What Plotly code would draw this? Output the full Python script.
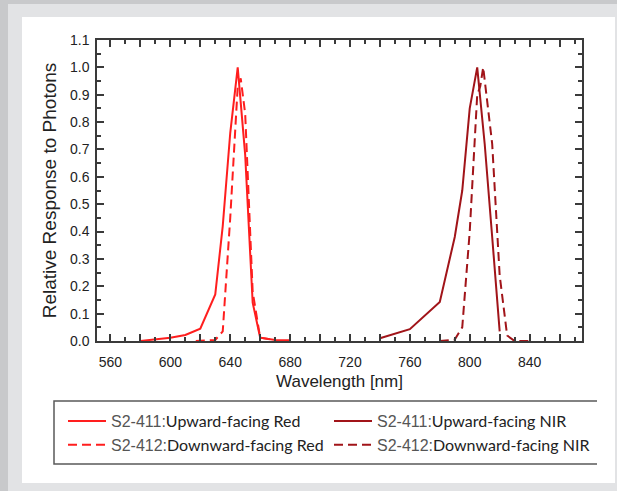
import plotly.graph_objects as go

# ---- data ----
red_up_wl = [580, 590, 600, 610, 620, 630, 635, 640, 645, 650, 655, 660, 670, 680]
red_up_val = [0.0, 0.005, 0.012, 0.022, 0.045, 0.17, 0.42, 0.76, 1.0, 0.68, 0.14, 0.012, 0.004, 0.003]

red_dn_wl = [617, 630, 635, 640, 645, 647, 650, 655, 660, 670]
red_dn_val = [0.0, 0.004, 0.035, 0.45, 0.93, 0.96, 0.83, 0.18, 0.012, 0.003]

nir_up_wl = [740, 760, 780, 790, 795, 800, 805, 810, 815, 820]
nir_up_val = [0.01, 0.043, 0.143, 0.38, 0.55, 0.85, 1.0, 0.72, 0.38, 0.035]

nir_dn_wl = [780, 790, 795, 800, 805, 807, 809, 815, 820, 825, 830, 840]
nir_dn_val = [0.0, 0.005, 0.05, 0.40, 0.90, 0.93, 1.0, 0.72, 0.24, 0.02, 0.0, 0.0]

series_names = [
    "S2-411:", "Upward-facing Red",
    "S2-412:", "Downward-facing Red",
    "S2-411:", "Upward-facing NIR",
    "S2-412:", "Downward-facing NIR",
]

x_tickvals = [560, 580, 600, 620, 640, 660, 680, 700, 720, 740, 760, 780, 800, 820, 840, 860]
x_ticktext = ["560", "", "600", "", "640", "", "680", "", "720", "", "760", "", "800", "", "840", ""]

RED = "#ff1e1e"
NIR = "#a11419"

W, H = 617, 491
ML, MR, MT, MB = 97, 35, 40, 150
PW, PH = W - ML - MR, H - MT - MB


def X(px):
    return (px - ML) / PW


def Y(py):
    return (H - MB - py) / PH


def lname(code, desc):
    return ("<span style='font-family:Liberation Sans;color:#555555'>" + code +
            "</span>" + desc)


fig = go.Figure()
fig.add_trace(go.Scatter(x=red_up_wl, y=red_up_val, mode="lines",
                         line=dict(color=RED, width=2),
                         name=lname(series_names[0], series_names[1])))
fig.add_trace(go.Scatter(x=nir_up_wl, y=nir_up_val, mode="lines",
                         line=dict(color=NIR, width=2),
                         name=lname(series_names[4], series_names[5])))
fig.add_trace(go.Scatter(x=red_dn_wl, y=red_dn_val, mode="lines",
                         line=dict(color=RED, width=2, dash="9px,5px"),
                         name=lname(series_names[2], series_names[3])))
fig.add_trace(go.Scatter(x=nir_dn_wl, y=nir_dn_val, mode="lines",
                         line=dict(color=NIR, width=2, dash="9px,5px"),
                         name=lname(series_names[6], series_names[7])))

AX = "#3a3a3a"
FONT = "Liberation Sans, Arial, sans-serif"
tickfont = dict(family=FONT, size=14, color="#222222")

fig.update_xaxes(
    range=[551, 875], showgrid=False, zeroline=False,
    showline=True, linecolor=AX, linewidth=1.5, mirror="allticks",
    ticks="inside", ticklen=7, tickwidth=1.5, tickcolor=AX,
    tickvals=x_tickvals, ticktext=x_ticktext, tickfont=tickfont,
    ticklabelstandoff=7,
    minor=dict(dtick=10, tick0=560, ticks="inside", ticklen=4, tickwidth=1.5, tickcolor=AX),
    title=dict(text="Wavelength [nm]", font=dict(family=FONT, size=17, color="#222222"),
               standoff=7),
)
fig.update_yaxes(
    range=[0, 1.1], showgrid=False, zeroline=False,
    showline=True, linecolor=AX, linewidth=1.5, mirror="allticks",
    ticks="inside", ticklen=7, tickwidth=1.5, tickcolor=AX,
    dtick=0.1, tick0=0, tickformat=".1f", tickfont=tickfont,
    ticklabelstandoff=3,
    minor=dict(dtick=0.05, ticks="inside", ticklen=4, tickwidth=1.5, tickcolor=AX),
    title=dict(text="Relative Response to Photons",
               font=dict(family=FONT, size=19, color="#222222"),
               standoff=8),
)

shapes = [
    # white panel
    dict(type="rect", xref="paper", yref="paper", x0=X(22), x1=X(615), y0=Y(483), y1=Y(17),
         fillcolor="white", line=dict(width=0), layer="below"),
    # darker outer strips
    dict(type="rect", xref="paper", yref="paper", x0=X(0), x1=X(617), y0=Y(4), y1=Y(0),
         fillcolor="#c8c9cb", line=dict(width=0), layer="below"),
    dict(type="rect", xref="paper", yref="paper", x0=X(0), x1=X(8), y0=Y(491), y1=Y(0),
         fillcolor="#c8c9cb", line=dict(width=0), layer="below"),
    # legend box (left, top, bottom)
    dict(type="path", xref="paper", yref="paper",
         path=f"M {X(597)},{Y(401)} L {X(54)},{Y(401)} L {X(54)},{Y(464)} L {X(597)},{Y(464)}",
         line=dict(color="#5a5a5a", width=1.5), layer="above"),
]

fig.update_layout(
    width=W, height=H,
    margin=dict(l=ML, r=MR, t=MT, b=MB),
    paper_bgcolor="#e2e3e5", plot_bgcolor="white",
    shapes=shapes,
    showlegend=True,
    legend=dict(orientation="h", x=X(63), y=Y(404), xanchor="left", yanchor="top",
                entrywidth=213, entrywidthmode="pixels", itemwidth=38,
                bgcolor="rgba(0,0,0,0)", borderwidth=0,
                font=dict(family="Lato, sans-serif", size=16, color="#222222"),
                traceorder="normal"),
)

fig.write_html("out.html", config={"displayModeBar": False},
               post_script="document.body.style.margin='0';document.body.style.padding='0';")
